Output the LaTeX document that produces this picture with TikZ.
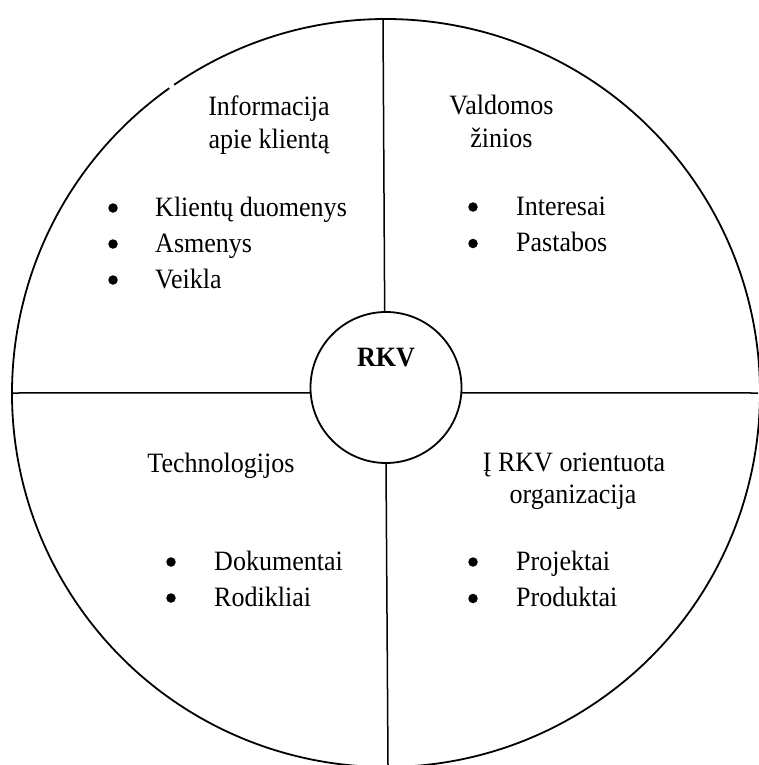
\documentclass[tikz,border=0pt]{standalone}
\usepackage{fontspec}
\setmainfont{Liberation Serif}[FakeStretch=0.93]
\begin{document}
\begin{tikzpicture}[x=1pt,y=1pt,
  txt/.style={inner sep=0pt, font=\fontsize{28}{32}\selectfont},
  title/.style={txt, anchor=base},
  item/.style={txt, anchor=base west},
  dot/.style={circle, fill, inner sep=0pt, minimum size=9.5pt},
  rim/.style={line width=1.8pt},
  divider/.style={line width=1.5pt}]
\useasboundingbox (0,0) rectangle (758,-765);

% outer circle (with the small break at the upper left)
\coordinate (O) at (386,-393);
\draw[rim] (O) ++(125.4:374) arc[start angle=125.4, end angle=484.5, radius=374];

% central hub
\node[draw, circle, rim, minimum size=151pt, inner sep=0pt] (hub) at (386,-387.5) {};
\node[txt, anchor=base, font=\fontsize{28}{32}\selectfont\bfseries] (hubLabel) at (386,-366) {RKV};

% dividers between the four sectors
\coordinate (top) at (383,-19);
\coordinate (bottom) at (388,-765);
\coordinate (left) at (12,-393);
\coordinate (right) at (758,-393);
\draw[divider] (hub.91) -- (top);
\draw[divider] (hub.270) -- (bottom);
\draw[divider] (hub.184) -- (left);
\draw[divider] (hub.-4) -- (right);

% upper left sector
\node[title] (t1a) at (269,-116) {Informacija};
\node[title] (t1b) at (269,-148) {apie klientą};
\node[dot] (b1a) at (113,-208) {};
\node[dot] (b1b) at (113,-244) {};
\node[dot] (b1c) at (113,-280) {};
\node[item] (i1a) at (155,-216) {Klientų duomenys};
\node[item] (i1b) at (155,-252) {Asmenys};
\node[item] (i1c) at (155,-288) {Veikla};

% upper right sector
\node[title] (t2a) at (501.5,-115) {Valdomos};
\node[title] (t2b) at (501.5,-147) {žinios};
\node[dot] (b2a) at (473,-207) {};
\node[dot] (b2b) at (473,-243.5) {};
\node[item] (i2a) at (516,-215) {Interesai};
\node[item] (i2b) at (516,-251.5) {Pastabos};

% lower left sector
\node[title] (t3a) at (221,-472.5) {Technologijos};
\node[dot] (b3a) at (171,-562) {};
\node[dot] (b3b) at (171,-598) {};
\node[item] (i3a) at (214,-570) {Dokumentai};
\node[item] (i3b) at (214,-606) {Rodikliai};

% lower right sector
\node[title] (t4a) at (574,-471.5) {Į RKV orientuota};
\node[title] (t4b) at (573,-503.5) {organizacija};
\node[dot] (b4a) at (473,-562) {};
\node[dot] (b4b) at (473,-598.5) {};
\node[item] (i4a) at (516,-570) {Projektai};
\node[item] (i4b) at (516,-606.5) {Produktai};
\end{tikzpicture}
\end{document}
